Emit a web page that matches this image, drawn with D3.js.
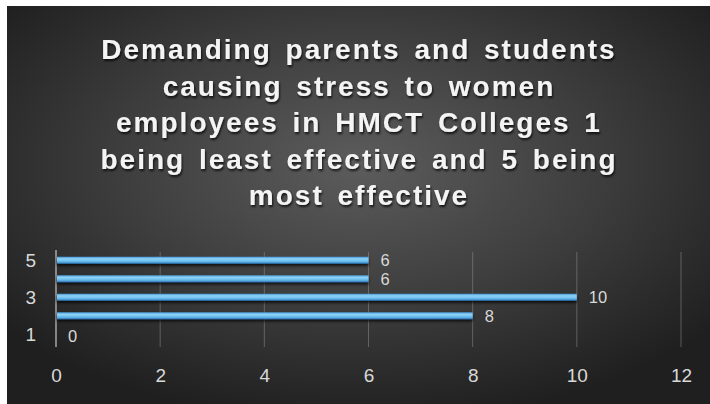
<!DOCTYPE html>
<html>
<head>
<meta charset="utf-8">
<script src="https://cdn.jsdelivr.net/npm/d3@7"></script>
<style>
  html, body { margin: 0; padding: 0; background: #ffffff; }
  svg { display: block; }
</style>
</head>
<body>
<svg id="chart" width="710" height="404"></svg>
<script>
// Rating scale (1 = least effective, 5 = most effective) and respondent counts
const categories = ["1", "2", "3", "4", "5"];
const counts = [0, 8, 10, 6, 6];
const axisLabelsY = ["1", "3", "5"];
const xTicks = [0, 2, 4, 6, 8, 10, 12];
const titleLines = [
  "Demanding parents and students",
  "causing stress to women",
  "employees in HMCT Colleges 1",
  "being least effective and 5 being",
  "most effective"
];

const svg = d3.select("#chart");
const W = 710, H = 404;
const panel = { x: 7, y: 6, w: W - 7, h: H - 6 };

const defs = svg.append("defs");

// Panel background: soft radial glow over dark charcoal
const bg = defs.append("radialGradient").attr("id", "bgGrad")
  .attr("cx", "50%").attr("cy", "40%").attr("r", "65%");
bg.append("stop").attr("offset", "0%").attr("stop-color", "#5c5c5c");
bg.append("stop").attr("offset", "55%").attr("stop-color", "#3c3c3c");
bg.append("stop").attr("offset", "100%").attr("stop-color", "#1f1f1f");

// Bar fill: glossy light-blue tube
const barGrad = defs.append("linearGradient").attr("id", "barGrad")
  .attr("x1", 0).attr("y1", 0).attr("x2", 0).attr("y2", 1);
barGrad.append("stop").attr("offset", "0%").attr("stop-color", "#4796d4");
barGrad.append("stop").attr("offset", "30%").attr("stop-color", "#8fd3f7");
barGrad.append("stop").attr("offset", "70%").attr("stop-color", "#64b8ea");
barGrad.append("stop").attr("offset", "100%").attr("stop-color", "#2a6eae");

const barShadow = defs.append("filter").attr("id", "barShadow")
  .attr("x", "-5%").attr("y", "-100%").attr("width", "110%").attr("height", "300%");
barShadow.append("feDropShadow").attr("dx", 0).attr("dy", 2)
  .attr("stdDeviation", 1.5).attr("flood-color", "#000").attr("flood-opacity", 0.8);

const textShadow = defs.append("filter").attr("id", "textShadow")
  .attr("x", "-5%").attr("y", "-20%").attr("width", "110%").attr("height", "150%");
textShadow.append("feDropShadow").attr("dx", 1).attr("dy", 2)
  .attr("stdDeviation", 1.2).attr("flood-color", "#000").attr("flood-opacity", 0.75);

svg.append("rect")
  .attr("x", panel.x).attr("y", panel.y)
  .attr("width", panel.w).attr("height", panel.h)
  .attr("fill", "url(#bgGrad)");

// Title
const title = svg.append("text")
  .attr("text-anchor", "middle")
  .attr("font-family", "'Liberation Sans', Arial, sans-serif")
  .attr("font-weight", "bold")
  .attr("font-size", 28)
  .attr("letter-spacing", 2)
  .attr("word-spacing", 4)
  .attr("fill", "#f4f4f4")
  .attr("filter", "url(#textShadow)");
titleLines.forEach((line, i) => {
  title.append("tspan")
    .attr("x", 359)
    .attr("y", 59 + i * 36.5)
    .text(line);
});

// Scales
const x = d3.scaleLinear().domain([0, 12]).range([56, 681]);
const y = d3.scaleBand().domain(categories.slice().reverse())
  .range([251, 343.5]).paddingInner(0.62).paddingOuter(0.31);

// Vertical gridlines
svg.append("g").selectAll("line")
  .data(xTicks.filter(d => d > 0))
  .join("line")
  .attr("x1", d => x(d)).attr("x2", d => x(d))
  .attr("y1", 252).attr("y2", 347)
  .attr("stroke", "#8a8a8a").attr("stroke-opacity", 0.55).attr("stroke-width", 1);

// Category axis line
svg.append("line")
  .attr("x1", x(0)).attr("x2", x(0))
  .attr("y1", 250).attr("y2", 347)
  .attr("stroke", "#c8c8c8").attr("stroke-width", 1.2);

// X tick labels
const xAxis = d3.axisBottom(x).tickValues(xTicks).tickSize(0).tickPadding(0);
const gx = svg.append("g").attr("transform", "translate(0,375)").call(xAxis);
gx.select(".domain").remove();
gx.selectAll("text")
  .attr("dy", "0.35em")
  .attr("font-family", "'Liberation Sans', Arial, sans-serif")
  .attr("font-size", 19)
  .attr("fill", "#d9d9d9");

// Y labels (every other category)
const yAxis = d3.axisLeft(y).tickValues(axisLabelsY).tickSize(0).tickPadding(0);
const gy = svg.append("g").attr("transform", "translate(36,0)").call(yAxis);
gy.select(".domain").remove();
gy.selectAll("text")
  .attr("font-family", "'Liberation Sans', Arial, sans-serif")
  .attr("font-size", 19)
  .attr("fill", "#d9d9d9")
  .attr("dy", "0.35em");

// Bars
const data = categories.map((c, i) => ({ cat: c, val: counts[i] }));
svg.append("g").selectAll("rect")
  .data(data.filter(d => d.val > 0))
  .join("rect")
  .attr("x", x(0) + 1)
  .attr("y", d => y(d.cat))
  .attr("width", d => x(d.val) - x(0) - 1)
  .attr("height", y.bandwidth())
  .attr("fill", "url(#barGrad)")
  .attr("filter", "url(#barShadow)");

// Value labels
svg.append("g").selectAll("text")
  .data(data)
  .join("text")
  .attr("x", d => x(d.val) + 12)
  .attr("y", d => y(d.cat) + y.bandwidth() / 2 + (d.val === 0 ? 2 : 0))
  .attr("dy", "0.35em")
  .attr("font-family", "'Liberation Sans', Arial, sans-serif")
  .attr("font-size", 16.5)
  .attr("fill", "#d9d9d9")
  .text(d => d.val);
</script>
</body>
</html>
